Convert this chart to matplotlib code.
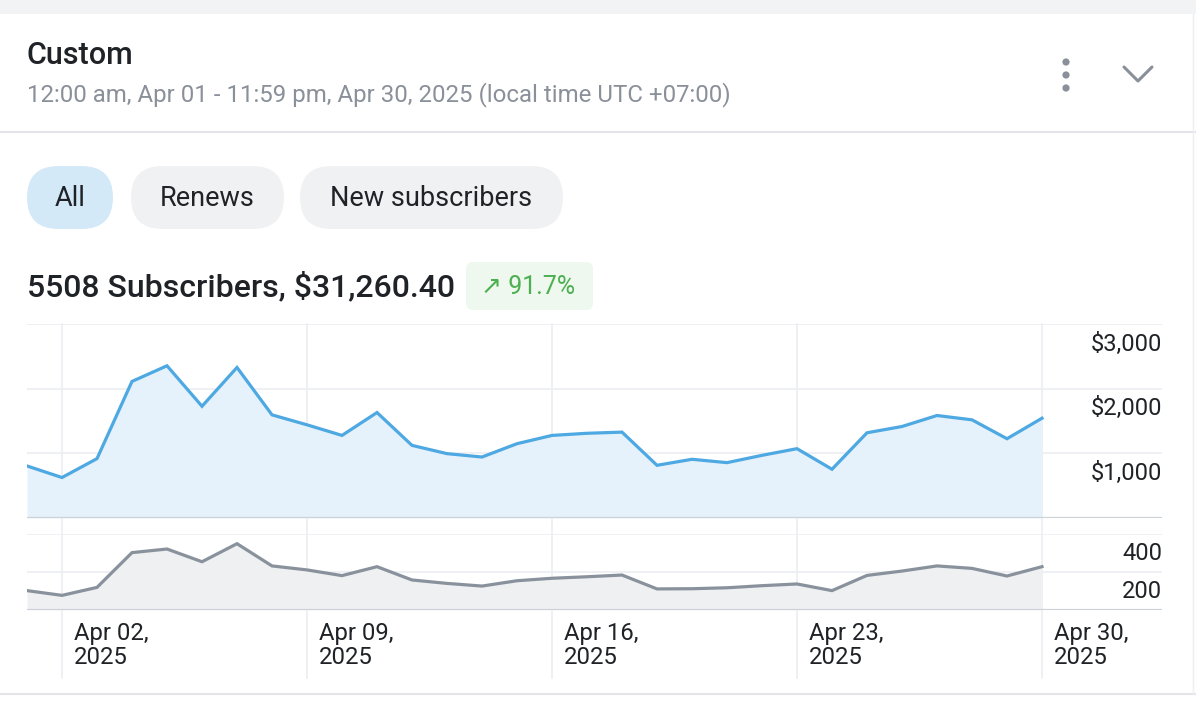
import matplotlib
matplotlib.use("Agg")
import matplotlib.pyplot as plt
from matplotlib.patches import FancyBboxPatch, Rectangle, Circle
from matplotlib.transforms import offset_copy, blended_transform_factory

plt.rcParams['font.family'] = ['Roboto', 'DejaVu Sans']

# ---------------- data ----------------
days = list(range(1, 31))  # April 1 .. April 30, 2025
revenue = [805, 626, 918, 2112, 2354, 1728, 2328, 1595, 1441, 1277,
           1631, 1123, 995, 943, 1149, 1277, 1310, 1328, 815, 908,
           856, 969, 1072, 754, 1318, 1415, 1585, 1518, 1226, 1543]
subscribers = [102, 77, 119, 302, 321, 254, 349, 232, 211, 181,
               228, 158, 140, 126, 154, 167, 175, 184, 111, 112,
               117, 128, 137, 102, 182, 205, 232, 219, 179, 228]
tick_days = [2, 9, 16, 23, 30]
tick_labels = ["Apr 02,\n2025", "Apr 09,\n2025", "Apr 16,\n2025", "Apr 23,\n2025", "Apr 30,\n2025"]
rev_ticks = [1000, 2000, 3000]
rev_tick_labels = ["$1,000", "$2,000", "$3,000"]
sub_ticks = [200, 400]
sub_tick_labels = ["200", "400"]
title_text = "5508 Subscribers, $31,260.40"
change_text = "↗ 91.7%"
filters = ["All", "Renews", "New subscribers"]

W, H = 1196, 702
fig = plt.figure(figsize=(W / 100, H / 100), dpi=100)
fig.patch.set_facecolor("white")

# ---------------- UI overlay (pixel coordinates) ----------------
ui = fig.add_axes([0, 0, 1, 1])
ui.set_xlim(0, W)
ui.set_ylim(H, 0)
ui.axis("off")
ui.set_zorder(0)

ui.add_patch(Rectangle((0, 0), W, 14, color="#f2f3f5", lw=0))
ui.plot([0, W], [132, 132], color="#e3e5e8", lw=1.5)
ui.plot([0, W], [694, 694], color="#e3e5e8", lw=1.5)
ui.plot([1193, 1193], [14, 694], color="#eceef0", lw=1)

ui.text(27, 55, "Custom", fontsize=22, color="#1f2226", va="center", ha="left", fontweight="medium")
ui.text(27, 95, "12:00 am, Apr 01 - 11:59 pm, Apr 30, 2025 (local time UTC +07:00)",
        fontsize=17.3, color="#8a9099", va="center", ha="left")

# three dots + chevron
for yy in (62, 75, 88):
    ui.add_patch(Circle((1066, yy), 3.6, color="#8a9099", lw=0))
ui.plot([1124, 1138, 1152], [67, 81, 67], color="#8a9099", lw=2.2, solid_capstyle="round")

# filter pills
pills = [(27, 113, "#d4e9f8"), (131, 284, "#f0f1f3"), (300, 563, "#f0f1f3")]
for (x0, x1, c), lab in zip(pills, filters):
    h = 63
    ui.add_patch(FancyBboxPatch((x0, 166), x1 - x0, h,
                                boxstyle=f"round,pad=0,rounding_size={h/2}",
                                fc=c, ec="none"))
    ui.text((x0 + x1) / 2, 198, lab, fontsize=19.5, color="#1f2226", ha="center", va="center")

# title and badge
ui.text(27, 287, title_text, fontsize=23, color="#1f2226", ha="left", va="center", fontweight="medium")
ui.add_patch(FancyBboxPatch((466, 262), 127, 48, boxstyle="round,pad=0,rounding_size=7",
                            fc="#eef8ee", ec="none"))
ui.text(481, 287, change_text, fontsize=18, color="#4caf50", ha="left", va="center")

# ---------------- chart axes ----------------
px_day = 35.0
x_left_px, x_right_px = 27, 1162
xmin = 1
xmax = 1 + (x_right_px - x_left_px) / px_day

top_y0, top_y1 = 324, 518
bot_y0, bot_y1 = 534, 610

ax1 = fig.add_axes([x_left_px / W, (H - top_y1) / H, (x_right_px - x_left_px) / W, (top_y1 - top_y0) / H])
ax2 = fig.add_axes([x_left_px / W, (H - bot_y1) / H, (x_right_px - x_left_px) / W, (bot_y1 - bot_y0) / H])

grid_c = "#eceef1"
base_c = "#cdd2d8"

for ax in (ax1, ax2):
    ax.set_xlim(xmin, xmax)
    ax.set_facecolor("none")
    for s in ax.spines.values():
        s.set_visible(False)
    ax.set_xticks([])
    ax.set_yticks([])

ax1.set_ylim(0, 3000)
ax2.set_ylim(0, 400)

# horizontal gridlines
for v in rev_ticks:
    ax1.axhline(v, color=grid_c, lw=1.2, zorder=1)
for v in sub_ticks:
    ax2.axhline(v, color=grid_c, lw=1.2, zorder=1)

# vertical gridlines spanning both charts and label area
ext = (top_y1 - 678) / (top_y1 - top_y0)
for d in tick_days:
    ax1.axvline(d, ymin=ext, ymax=1, color=grid_c, lw=1.2, clip_on=False, zorder=0.5)

# series
ax1.fill_between(days, revenue, 0, color="#e5f2fb", lw=0, zorder=2)
ax1.plot(days, revenue, color="#4ea8e2", lw=2.3, zorder=3, solid_joinstyle="miter")
ax2.fill_between(days, subscribers, 0, color="#eff0f2", lw=0, zorder=2)
ax2.plot(days, subscribers, color="#89929c", lw=2.3, zorder=3, solid_joinstyle="miter")

ax1.axhline(0, color=base_c, lw=1.6, zorder=4)
ax2.axhline(0, color=base_c, lw=1.6, zorder=4)

# right-hand value labels (sit just below their gridline)
tr1 = offset_copy(blended_transform_factory(ax1.transAxes, ax1.transData), fig, x=0, y=-20, units="dots")
for v, lab in zip(rev_ticks, rev_tick_labels):
    ax1.text(1.0, v, lab, transform=tr1, ha="right", va="center", fontsize=17, color="#1f2226", clip_on=False)
tr2 = offset_copy(blended_transform_factory(ax2.transAxes, ax2.transData), fig, x=0, y=-20, units="dots")
for v, lab in zip(sub_ticks, sub_tick_labels):
    ax2.text(1.0, v, lab, transform=tr2, ha="right", va="center", fontsize=17, color="#1f2226", clip_on=False)

# x labels
trx = offset_copy(blended_transform_factory(ax2.transData, ax2.transData), fig, x=12, y=-12, units="dots")
for d, lab in zip(tick_days, tick_labels):
    ax2.text(d, 0, lab, transform=trx, ha="left", va="top", fontsize=17.2, color="#1f2226",
             linespacing=1.08, clip_on=False)

fig.savefig("out.png", dpi=100, facecolor="white")
